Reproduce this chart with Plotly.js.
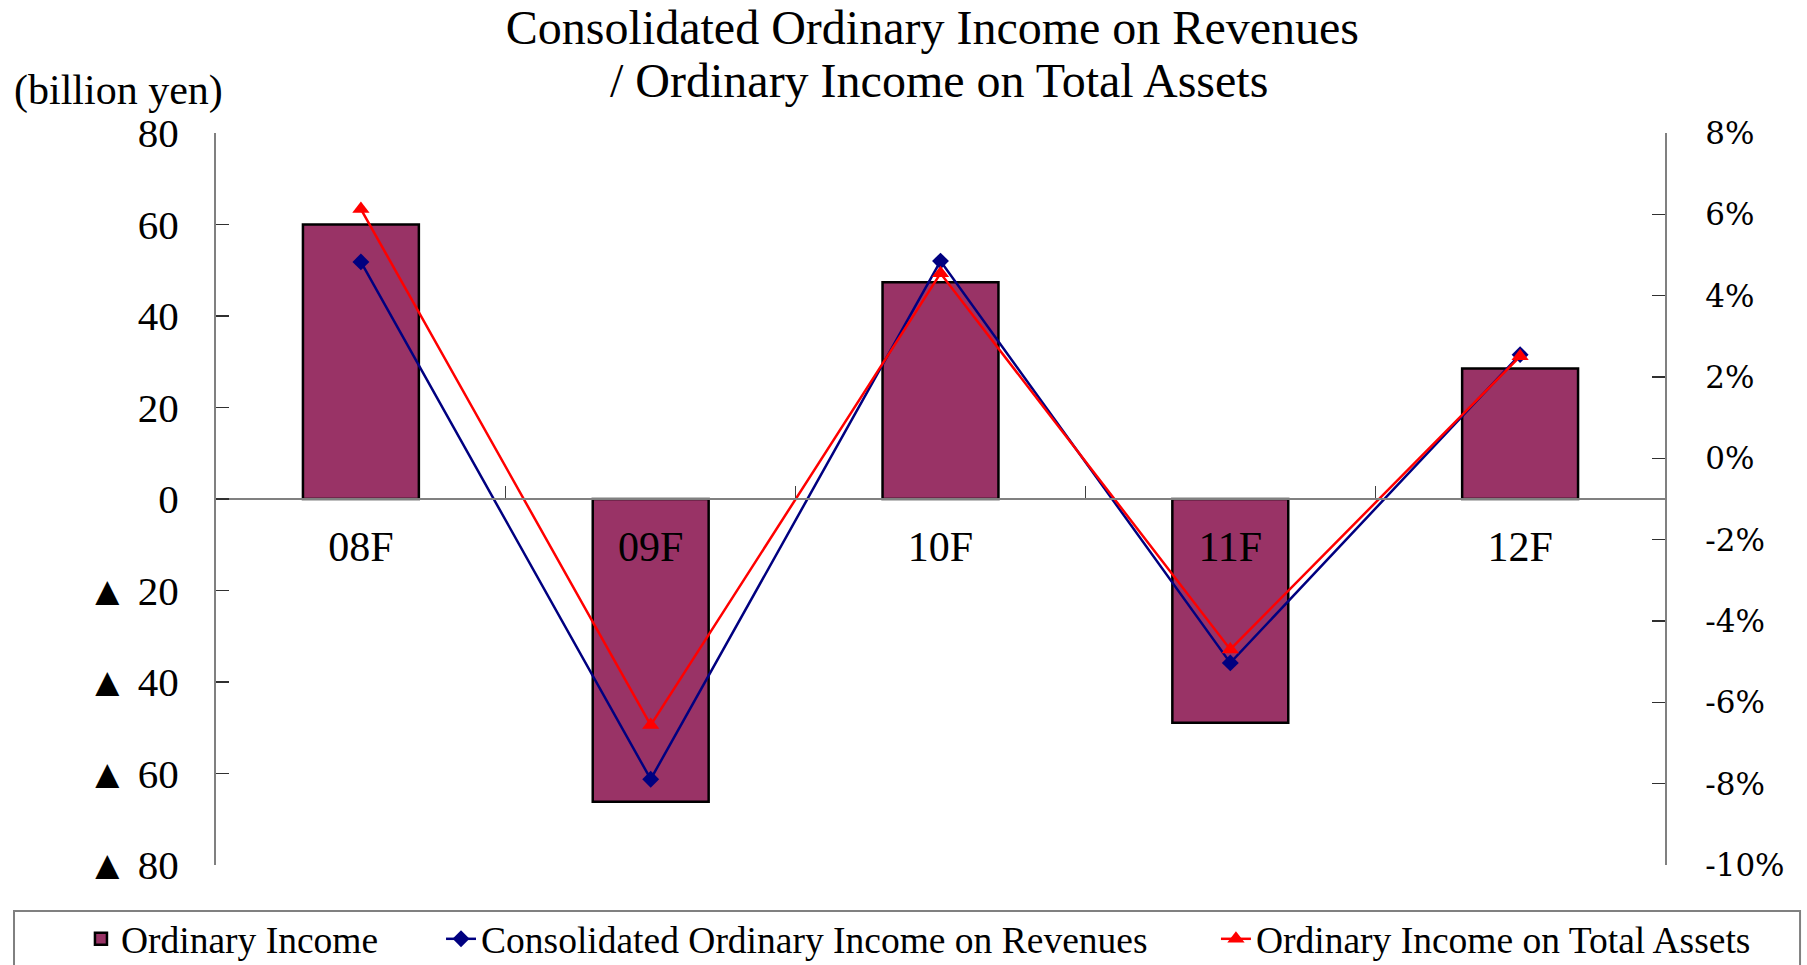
<!DOCTYPE html>
<html>
<head>
<meta charset="utf-8">
<script src="https://cdn.plot.ly/plotly-3.0.1.min.js"></script>
<style>
  html, body { margin: 0; padding: 0; background: #ffffff; }
  #chart { width: 1807px; height: 965px; }
</style>
</head>
<body>
<div id="chart"></div>
<script>
// ---- data ----
const categories = ["08F", "09F", "10F", "11F", "12F"];
const ordinaryIncome = [60.0, -66.2, 47.4, -48.9, 28.5];          // billion yen
const incomeOnRevenues = [4.83, -7.89, 4.85, -5.03, 2.55];        // %
const incomeOnAssets = [6.13, -6.56, 4.55, -4.70, 2.51];          // %

const leftTickVals = [-80, -60, -40, -20, 0, 20, 40, 60, 80];
const leftTickText = ["▲ 80", "▲ 60", "▲ 40", "▲ 20", "0", "20", "40", "60", "80"];
const rightTickVals = [-10, -8, -6, -4, -2, 0, 2, 4, 6, 8];
const rightTickText = ["-10%", "-8%", "-6%", "-4%", "-2%", "0%", "2%", "4%", "6%", "8%"];

const seriesNames = ["Ordinary Income", "Consolidated Ordinary Income on Revenues", "Ordinary Income on Total Assets"];

const serif = "Liberation Serif, Times New Roman, serif";
const legendFont = { family: serif, size: 37.5, color: "#000000" };

const traces = [
  {
    type: "bar",
    name: seriesNames[0],
    x: categories,
    y: ordinaryIncome,
    width: 0.4,
    marker: { color: "#993366", line: { color: "#000000", width: 2.5 } },
    yaxis: "y",
    legend: "legend"
  },
  {
    type: "scatter",
    mode: "lines+markers",
    name: seriesNames[1],
    x: categories,
    y: incomeOnRevenues,
    yaxis: "y2",
    line: { color: "#000080", width: 2.5 },
    marker: { symbol: "diamond", size: 13, color: "#000080" },
    legend: "legend2"
  },
  {
    type: "scatter",
    mode: "lines+markers",
    name: seriesNames[2],
    x: categories,
    y: incomeOnAssets,
    yaxis: "y2",
    line: { color: "#FF0000", width: 2.5 },
    marker: { symbol: "triangle-up", size: 15, color: "#FF0000" },
    legend: "legend3"
  }
];

function legendAt(x) {
  return {
    orientation: "h",
    x: x, xanchor: "left",
    y: -0.101, yanchor: "middle",
    font: legendFont,
    bgcolor: "rgba(0,0,0,0)",
    borderwidth: 0
  };
}

const layout = {
  width: 1807,
  height: 965,
  paper_bgcolor: "#ffffff",
  plot_bgcolor: "rgba(0,0,0,0)",
  margin: { l: 216, r: 142, t: 133, b: 100, pad: 0, autoexpand: false },
  font: { family: serif, size: 40, color: "#000000" },
  showlegend: true,
  title: {
    text: "Consolidated Ordinary Income on Revenues",
    font: { family: serif, size: 48, color: "#000000" },
    xref: "container", x: 0.516, xanchor: "center",
    yref: "container", y: 0.972, yanchor: "middle"
  },
  xaxis: {
    type: "category",
    range: [-0.5, 4.5],
    anchor: "free",
    position: 0.5,
    showline: true,
    linecolor: "#808080",
    linewidth: 2,
    showgrid: false,
    zeroline: false,
    ticks: "inside",
    tickson: "boundaries",
    ticklen: 12,
    tickwidth: 1.2,
    tickcolor: "#404040",
    ticklabelstandoff: 11,
    tickfont: { family: serif, size: 42, color: "#000000" },
    fixedrange: true
  },
  yaxis: {
    range: [-80, 80],
    tickmode: "array",
    tickvals: leftTickVals,
    ticktext: leftTickText,
    showline: true,
    linecolor: "#808080",
    linewidth: 2,
    showgrid: false,
    zeroline: false,
    ticks: "inside",
    ticklen: 13,
    tickwidth: 1.5,
    tickcolor: "#303030",
    ticklabelstandoff: 27,
    tickfont: { family: serif, size: 41, color: "#000000" },
    fixedrange: true
  },
  yaxis2: {
    overlaying: "y",
    side: "right",
    range: [-10, 8],
    tickmode: "array",
    tickvals: rightTickVals,
    ticktext: rightTickText,
    showline: true,
    linecolor: "#808080",
    linewidth: 2,
    showgrid: false,
    zeroline: false,
    ticks: "inside",
    ticklen: 13,
    tickwidth: 1.5,
    tickcolor: "#303030",
    ticklabelstandoff: 32,
    tickfont: { family: "DejaVu Serif, serif", size: 31, color: "#000000" },
    fixedrange: true
  },
  legend: legendAt(-0.0932),
  legend2: legendAt(0.1553),
  legend3: legendAt(0.6901),
  annotations: [
    {
      text: "/ Ordinary Income on Total Assets",
      xref: "paper", x: 0.4989, xanchor: "center",
      yref: "paper", y: 1.072, yanchor: "middle",
      showarrow: false,
      font: { family: serif, size: 48, color: "#000000" }
    },
    {
      text: "(billion yen)",
      xref: "paper", x: -0.141, xanchor: "left",
      yref: "paper", y: 1.0587, yanchor: "middle",
      showarrow: false,
      font: { family: serif, size: 42, color: "#000000" }
    }
  ],
  shapes: [
    {
      type: "rect",
      xref: "paper", yref: "paper",
      x0: -0.1394, x1: 1.0932,
      y0: -0.16, y1: -0.0628,
      line: { color: "#808080", width: 2 },
      fillcolor: "rgba(0,0,0,0)",
      layer: "below"
    }
  ]
};

Plotly.newPlot("chart", traces, layout, { displayModeBar: false, staticPlot: true });
</script>
</body>
</html>
